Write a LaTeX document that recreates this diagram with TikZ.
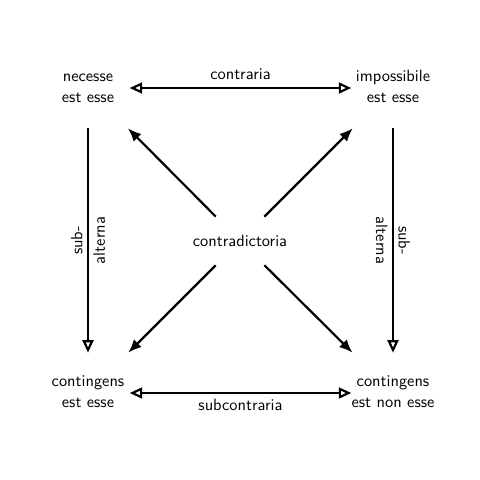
\documentclass[tikz,border=0pt]{standalone}
\usetikzlibrary{arrows.meta}
\begin{document}
\begin{tikzpicture}[x=0.64pt,y=-0.64pt,
  every node/.style={font={\sffamily\fontsize{10.5}{13.4}\selectfont}},
  corner/.style={text width=53pt, align=center, inner xsep=0pt, inner ysep=14.4pt, text height=7pt, text depth=15.4pt},
  openarr/.style={line width=1.4pt, -{Triangle[open,length=8pt,width=7pt]}},
  bothopen/.style={line width=1.4pt, {Triangle[open,length=8pt,width=7pt]}-{Triangle[open,length=8pt,width=7pt]}},
  diag/.style={line width=1.4pt, -{Latex[length=8.5pt,width=7pt]}, shorten <=22pt},
  vlab/.style={align=center, font={\sffamily\fontsize{10.5}{14.5}\selectfont}}]
\useasboundingbox (0,0) rectangle (480,480);
\node[corner] (A) at (88,88) {necesse\\est esse};
\node[corner] (B) at (393,88) {impossibile\\est esse};
\node[corner] (C) at (88,393) {contingens\\est esse};
\node[corner] (D) at (393,393) {contingens\\est non esse};
\node (O) at (240,241) {contradictoria};
\draw[bothopen] (A) -- node[above=1pt] {contraria} (B);
\draw[bothopen] (C) -- node[below] {subcontraria} (D);
\draw[openarr] (A) -- node[vlab, rotate=90] {sub-\\alterna} (C);
\draw[openarr] (B) -- node[vlab, rotate=-90] {sub-\\alterna} (D);
\draw[diag] (O.center) -- (A);
\draw[diag] (O.center) -- (B);
\draw[diag] (O.center) -- (C);
\draw[diag] (O.center) -- (D);
\end{tikzpicture}
\end{document}
